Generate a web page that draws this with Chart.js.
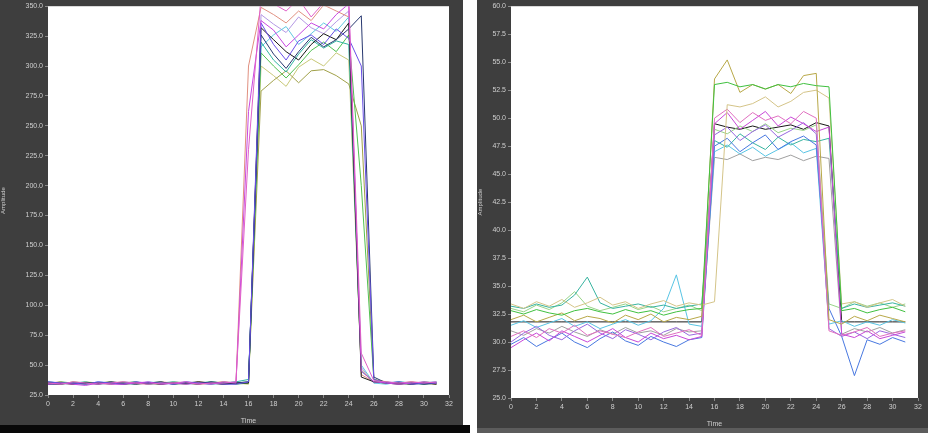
<!DOCTYPE html>
<html>
<head>
<meta charset="utf-8">
<script src="https://cdn.jsdelivr.net/npm/chart.js@4.4.1/dist/chart.umd.min.js"></script>
<style>
  html, body { margin: 0; padding: 0; background: #ffffff; width: 928px; height: 433px; overflow: hidden; }
  #leftWrap { position: absolute; left: 0; top: 0; width: 463px; height: 425px; }
  #rightWrap { position: absolute; left: 477px; top: 0; width: 451px; height: 428px; }
  #leftFoot { position: absolute; left: 0; top: 425px; width: 470px; height: 8px; background: #080808; }
  #rightFoot { position: absolute; left: 477px; top: 428px; width: 451px; height: 5px; background: #5c5c5c; }
</style>
</head>
<body>
<div id="leftWrap"><canvas id="leftChart" width="463" height="425"></canvas></div>
<div id="rightWrap"><canvas id="rightChart" width="451" height="428"></canvas></div>
<div id="leftFoot"></div>
<div id="rightFoot"></div>
<script>
// ---- shared categories ----
const times = [0,1,2,3,4,5,6,7,8,9,10,11,12,13,14,15,16,17,18,19,20,21,22,23,24,25,26,27,28,29,30,31];

// ---- left panel axis ----
const leftYMin = 25, leftYMax = 350, leftYStep = 25;
const xMin = 0, xMax = 32, xStep = 2;
const xTitle = "Time";
const yTitle = "Amplitude";

// ---- left panel series ----
const leftPink     = [35,34,36,35,34,35,36,35,34,35,35,36,34,35,35,36,230,358,352,346,356,341,353,357,356,60,37,36,35,36,35,36];
const leftMagenta  = [34,35,34,33,35,34,34,35,36,34,35,34,35,34,36,35,262,338,330,316,326,336,331,343,352,45,36,35,34,35,36,35];
const leftPurple   = [36,35,35,34,36,35,34,36,35,35,34,36,35,35,34,34,36,336,318,305,321,326,318,331,323,300,38,35,36,34,35,35];
const leftNavy     = [34,34,35,35,34,36,35,34,35,36,34,35,34,36,35,35,36,326,310,298,312,324,316,322,331,342,40,35,34,35,34,35];
const leftBlack    = [35,35,34,35,35,35,34,35,35,34,35,35,36,35,34,35,35,332,322,312,305,318,327,322,336,40,36,35,35,34,35,34];
const leftTeal     = [36,35,35,36,34,35,35,36,34,35,36,35,35,34,35,36,38,320,305,295,310,322,315,321,318,45,36,35,36,35,34,35];
const leftGreen    = [34,36,35,34,35,36,34,35,35,36,34,35,35,36,35,34,35,311,300,290,301,313,320,312,326,200,38,35,35,34,36,35];
const leftOlive    = [35,34,36,35,35,34,35,36,34,35,35,34,36,35,34,35,36,279,288,296,286,296,297,292,285,250,38,36,34,35,35,34];
const leftKhaki    = [35,35,34,36,35,35,36,34,35,34,36,35,34,35,36,35,34,300,292,283,299,306,300,311,305,46,36,35,34,36,35,35];
const leftCyan     = [34,35,35,34,36,35,35,34,36,35,35,34,35,36,35,35,36,316,326,333,318,327,336,329,341,50,35,34,36,35,35,36];
const leftSalmon   = [35,36,34,35,35,36,35,35,34,36,35,35,34,35,36,35,300,349,343,336,346,338,351,346,341,42,36,35,35,36,34,35];
const leftLavender = [36,35,35,34,35,34,36,35,35,34,35,36,35,34,35,36,35,343,335,328,341,332,327,337,346,48,35,36,35,34,35,36];

// ---- right panel axis ----
const rightYMin = 25, rightYMax = 60, rightYStep = 2.5;

// ---- right panel series ----
const rightBlack   = [31.8,31.8,31.8,31.8,31.8,31.8,31.8,31.8,31.8,31.8,31.8,31.8,31.8,31.8,31.8,31.8,49.5,49.2,49.0,49.3,49.0,49.2,49.4,49.0,49.6,49.3,31.8,31.8,31.8,31.8,31.8,31.8];
const rightGreen   = [32.8,32.5,32.9,32.6,32.4,32.8,33.0,32.7,32.5,32.9,32.6,32.8,32.4,32.7,32.9,33.0,53.0,53.2,52.8,53.0,52.6,53.0,52.8,53.1,52.9,52.8,32.8,33.0,32.6,32.9,33.1,32.7];
const rightOlive   = [32.0,32.4,31.8,32.2,32.6,31.9,32.3,32.1,31.7,32.4,32.0,32.5,31.8,32.2,32.0,32.3,53.5,55.2,52.3,53.0,52.6,53.0,52.2,53.8,54.0,32.0,31.6,32.3,31.9,32.4,32.1,31.8];
const rightKhaki   = [33.4,33.0,33.6,33.2,33.8,33.1,33.5,34.0,33.3,33.6,33.0,33.4,33.7,33.2,33.5,33.3,33.6,51.2,51.0,51.3,51.9,51.0,51.5,52.3,52.5,51.8,33.4,33.6,33.1,33.5,33.8,33.2];
const rightPink    = [30.5,31.0,30.4,31.2,30.8,31.5,30.6,31.0,30.7,30.4,30.9,31.3,30.5,30.8,31.1,30.6,50.0,50.8,49.6,50.5,49.8,50.2,49.5,50.6,50.0,31.0,30.6,30.9,31.3,30.5,30.8,31.0];
const rightMagenta = [29.5,30.2,30.8,30.1,31.0,30.5,30.0,30.6,31.2,30.4,30.0,30.8,30.3,30.6,30.2,30.5,49.5,50.5,49.0,49.8,50.6,49.3,50.1,49.5,48.8,49.2,30.7,30.4,31.0,30.3,30.6,30.9];
const rightViolet  = [30.0,30.8,31.4,30.6,30.2,31.0,31.6,30.8,30.3,31.1,30.7,30.2,30.9,31.3,30.6,30.8,48.5,49.2,48.0,48.8,49.4,48.3,48.9,49.6,48.6,31.2,30.5,30.9,30.3,31.0,30.7,30.4];
const rightBlue    = [29.8,30.4,29.6,30.2,30.8,30.0,29.5,30.3,30.9,30.1,29.7,30.5,30.0,29.6,30.2,30.4,47.5,48.2,47.0,47.8,48.5,47.2,47.9,48.4,47.6,33.0,30.5,27.0,30.2,29.8,30.4,30.0];
const rightTeal    = [33.2,33.0,33.4,33.1,33.3,34.2,35.8,33.5,33.0,33.2,33.4,33.1,33.3,33.0,33.2,33.4,48.0,47.4,48.6,47.8,47.2,48.3,47.6,48.1,47.9,48.2,33.0,33.4,33.1,33.3,33.5,33.2];
const rightCyan    = [31.5,31.9,31.3,31.7,32.1,31.4,31.8,31.2,31.6,32.0,31.5,31.9,33.0,36.0,31.6,31.4,47.0,47.6,46.8,47.4,46.6,47.2,47.8,46.9,47.3,31.6,31.9,31.4,31.8,31.5,32.0,31.7];
const rightGray    = [31.0,30.6,31.2,30.8,31.4,30.9,30.5,31.1,30.7,31.3,30.8,31.0,30.6,31.2,30.9,31.0,46.5,46.3,46.8,46.2,46.5,46.3,46.7,46.2,46.6,46.4,30.7,31.2,30.9,31.3,30.8,31.1];
const rightLime    = [33.0,32.7,33.3,32.9,33.5,34.5,33.2,32.8,33.1,33.4,32.9,33.2,32.7,33.0,33.3,32.8,49.0,48.6,49.3,48.8,49.5,48.7,49.1,48.9,49.4,33.4,33.0,33.6,33.2,33.5,33.1,33.4];

// ---- build ----
const panelBg = '#3e3e3e';
const textColor = '#cfcfcf';
const tickFont = { family: 'Liberation Sans', size: 7 };

const bgPlugin = {
  id: 'panelBg',
  beforeDraw(chart) {
    const { ctx, chartArea: a } = chart;
    ctx.save();
    ctx.fillStyle = panelBg;
    ctx.fillRect(0, 0, chart.width, chart.height);
    ctx.fillStyle = '#ffffff';
    ctx.fillRect(a.left, a.top, a.right - a.left, a.bottom - a.top);
    ctx.restore();
  }
};

function series(values, color) {
  return {
    data: values.map((v, i) => ({ x: times[i], y: v })),
    borderColor: color,
    borderWidth: 1,
    pointRadius: 0,
    tension: 0,
    fill: false
  };
}

function makeChart(id, datasets, yMin, yMax, yStep, yWidth, xHeight, pad) {
  return new Chart(document.getElementById(id), {
    type: 'line',
    data: { datasets },
    plugins: [bgPlugin],
    options: {
      responsive: false,
      animation: false,
      devicePixelRatio: 1,
      layout: { padding: pad },
      plugins: { legend: { display: false }, tooltip: { enabled: false } },
      scales: {
        x: {
          type: 'linear', min: xMin, max: xMax,
          afterFit: s => { s.height = xHeight; },
          ticks: { stepSize: xStep, color: textColor, font: tickFont, padding: 2, maxRotation: 0, autoSkip: false },
          grid: { drawOnChartArea: false, drawTicks: true, tickLength: 3, color: '#8a8a8a' },
          border: { display: false },
          title: { display: true, text: xTitle, color: textColor, font: { family: 'Liberation Sans', size: 7 }, padding: 0 }
        },
        y: {
          min: yMin, max: yMax,
          afterFit: s => { s.width = yWidth; },
          ticks: { stepSize: yStep, color: textColor, font: tickFont, padding: 2, callback: v => Number(v).toFixed(1) },
          grid: { drawOnChartArea: false, drawTicks: true, tickLength: 3, color: '#8a8a8a' },
          border: { display: false },
          title: { display: true, text: yTitle, color: textColor, font: { family: 'Liberation Sans', size: 6 }, padding: 0 }
        }
      }
    }
  });
}

makeChart('leftChart', [
  series(leftPink, '#e060c8'),
  series(leftMagenta, '#c848e0'),
  series(leftPurple, '#6a50e8'),
  series(leftNavy, '#283870'),
  series(leftBlack, '#181818'),
  series(leftTeal, '#30b4a0'),
  series(leftGreen, '#50c050'),
  series(leftOlive, '#a0a048'),
  series(leftKhaki, '#c8c878'),
  series(leftCyan, '#60c8e0'),
  series(leftSalmon, '#e09080'),
  series(leftLavender, '#b498e4')
], leftYMin, leftYMax, leftYStep, 48, 30, { top: 5, right: 14, left: 0, bottom: 0 });

makeChart('rightChart', [
  series(rightGreen, '#40c040'),
  series(rightOlive, '#b8a848'),
  series(rightKhaki, '#d4c488'),
  series(rightPink, '#e070c0'),
  series(rightMagenta, '#c848d8'),
  series(rightViolet, '#9868e0'),
  series(rightBlue, '#4878e0'),
  series(rightTeal, '#38b4a0'),
  series(rightCyan, '#58c4e4'),
  series(rightGray, '#a0a0a0'),
  series(rightLime, '#98d488'),
  series(rightBlack, '#181818')
], rightYMin, rightYMax, rightYStep, 34, 30, { top: 5, right: 10, left: 0, bottom: 0 });
</script>
</body>
</html>
